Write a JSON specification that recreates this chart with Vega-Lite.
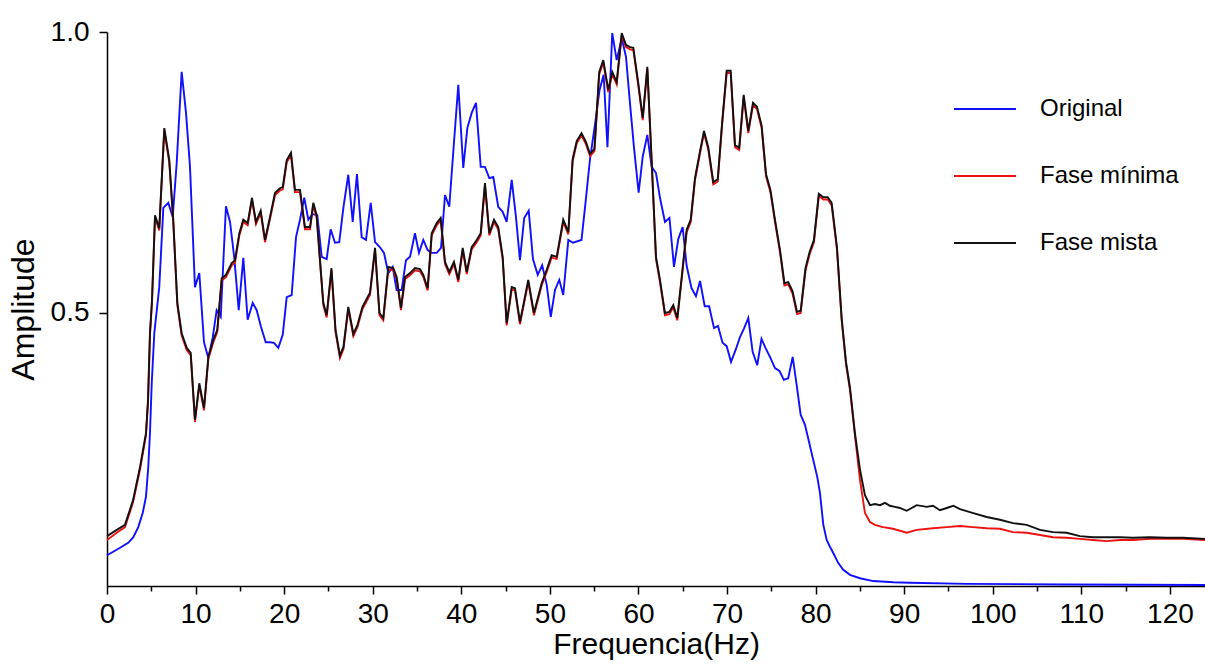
{
  "$schema": "https://vega.github.io/schema/vega-lite/v6.json",
  "width": 1098,
  "height": 554,
  "autosize": {"type": "none"},
  "padding": {"left": 107, "top": 32, "right": 0, "bottom": 78},
  "background": "white",
  "config": {
    "view": {"stroke": null},
    "font": "Liberation Sans",
    "axis": {
      "grid": false,
      "domainColor": "black",
      "domainWidth": 1.5,
      "tickColor": "black",
      "tickWidth": 1.5,
      "labelColor": "black",
      "labelFont": "Liberation Sans",
      "labelFontSize": 28,
      "titleColor": "black",
      "titleFont": "Liberation Sans",
      "titleFontSize": 30,
      "titleFontWeight": "normal"
    }
  },
  "datasets": {
    "original": [
      {"f":0,"a":0.069},{"f":0.90,"a":0.077},{"f":1.66,"a":0.084},{"f":2.40,"a":0.091},{"f":2.97,"a":0.101},{"f":3.53,"a":0.119},{"f":4.03,"a":0.144},{"f":4.40,"a":0.173},{"f":4.66,"a":0.226},{"f":4.85,"a":0.286},{"f":5.05,"a":0.375},{"f":5.34,"a":0.464},{"f":5.90,"a":0.546},{"f":6.36,"a":0.687},{"f":6.92,"a":0.696},{"f":7.42,"a":0.671},{"f":7.87,"a":0.767},{"f":8.43,"a":0.929},{"f":8.92,"a":0.856},{"f":9.37,"a":0.760},{"f":9.93,"a":0.546},{"f":10.42,"a":0.571},{"f":10.95,"a":0.448},{"f":11.44,"a":0.420},{"f":11.93,"a":0.456},{"f":12.38,"a":0.505},{"f":12.84,"a":0.493},{"f":13.43,"a":0.690},{"f":13.89,"a":0.662},{"f":14.37,"a":0.598},{"f":14.87,"a":0.505},{"f":15.39,"a":0.598},{"f":15.88,"a":0.488},{"f":16.45,"a":0.518},{"f":16.90,"a":0.505},{"f":17.39,"a":0.475},{"f":17.92,"a":0.448},{"f":18.40,"a":0.448},{"f":18.85,"a":0.447},{"f":19.34,"a":0.438},{"f":19.84,"a":0.461},{"f":20.29,"a":0.528},{"f":20.85,"a":0.532},{"f":21.34,"a":0.635},{"f":21.79,"a":0.666},{"f":22.27,"a":0.705},{"f":22.73,"a":0.666},{"f":23.22,"a":0.676},{"f":23.74,"a":0.674},{"f":24.24,"a":0.600},{"f":24.80,"a":0.596},{"f":25.25,"a":0.649},{"f":25.74,"a":0.625},{"f":26.22,"a":0.626},{"f":26.70,"a":0.689},{"f":27.24,"a":0.746},{"f":27.74,"a":0.662},{"f":28.22,"a":0.747},{"f":28.75,"a":0.635},{"f":29.24,"a":0.630},{"f":29.77,"a":0.696},{"f":30.26,"a":0.626},{"f":30.82,"a":0.617},{"f":31.27,"a":0.607},{"f":31.76,"a":0.571},{"f":32.25,"a":0.582},{"f":32.70,"a":0.541},{"f":33.27,"a":0.541},{"f":33.75,"a":0.594},{"f":34.21,"a":0.600},{"f":34.77,"a":0.642},{"f":35.22,"a":0.607},{"f":35.71,"a":0.630},{"f":36.20,"a":0.612},{"f":36.66,"a":0.607},{"f":37.22,"a":0.607},{"f":37.71,"a":0.616},{"f":38.16,"a":0.710},{"f":38.64,"a":0.689},{"f":39.17,"a":0.803},{"f":39.66,"a":0.906},{"f":40.22,"a":0.758},{"f":40.68,"a":0.829},{"f":41.17,"a":0.856},{"f":41.66,"a":0.874},{"f":42.19,"a":0.760},{"f":42.67,"a":0.760},{"f":43.16,"a":0.740},{"f":43.61,"a":0.742},{"f":44.17,"a":0.689},{"f":44.67,"a":0.680},{"f":45.12,"a":0.662},{"f":45.69,"a":0.737},{"f":46.17,"a":0.671},{"f":46.62,"a":0.594},{"f":47.10,"a":0.669},{"f":47.61,"a":0.682},{"f":48.09,"a":0.596},{"f":48.63,"a":0.568},{"f":49.13,"a":0.585},{"f":49.64,"a":0.550},{"f":50.10,"a":0.493},{"f":50.58,"a":0.541},{"f":51.06,"a":0.559},{"f":51.51,"a":0.532},{"f":52.08,"a":0.630},{"f":52.61,"a":0.625},{"f":53.57,"a":0.630},{"f":54.02,"a":0.696},{"f":54.53,"a":0.774},{"f":55.09,"a":0.835},{"f":55.61,"a":0.897},{"f":56.07,"a":0.924},{"f":56.50,"a":0.795},{"f":57.04,"a":0.998},{"f":57.54,"a":0.950},{"f":58.11,"a":0.989},{"f":58.59,"a":0.956},{"f":59.04,"a":0.874},{"f":59.49,"a":0.795},{"f":60.02,"a":0.714},{"f":60.48,"a":0.778},{"f":61.00,"a":0.817},{"f":61.49,"a":0.760},{"f":61.98,"a":0.749},{"f":62.43,"a":0.705},{"f":62.99,"a":0.662},{"f":63.50,"a":0.669},{"f":64.01,"a":0.582},{"f":64.50,"a":0.632},{"f":64.99,"a":0.653},{"f":65.44,"a":0.584},{"f":65.99,"a":0.544},{"f":66.49,"a":0.530},{"f":66.95,"a":0.557},{"f":67.48,"a":0.512},{"f":67.98,"a":0.512},{"f":68.53,"a":0.473},{"f":68.98,"a":0.477},{"f":69.49,"a":0.447},{"f":69.96,"a":0.441},{"f":70.45,"a":0.413},{"f":71.01,"a":0.436},{"f":71.46,"a":0.457},{"f":71.91,"a":0.472},{"f":72.40,"a":0.491},{"f":72.89,"a":0.431},{"f":73.41,"a":0.407},{"f":73.89,"a":0.454},{"f":74.34,"a":0.438},{"f":74.90,"a":0.420},{"f":75.41,"a":0.402},{"f":75.92,"a":0.397},{"f":76.41,"a":0.381},{"f":76.91,"a":0.384},{"f":77.41,"a":0.422},{"f":77.86,"a":0.372},{"f":78.31,"a":0.319},{"f":78.80,"a":0.301},{"f":79.28,"a":0.269},{"f":79.74,"a":0.238},{"f":80.19,"a":0.208},{"f":80.49,"a":0.180},{"f":80.87,"a":0.123},{"f":81.25,"a":0.096},{"f":81.62,"a":0.084},{"f":81.99,"a":0.073},{"f":82.56,"a":0.055},{"f":83.12,"a":0.043},{"f":83.88,"a":0.034},{"f":85.01,"a":0.028},{"f":86.51,"a":0.023},{"f":88.77,"a":0.021},{"f":90.65,"a":0.020},{"f":97.05,"a":0.018},{"f":108.34,"a":0.017},{"f":123.96,"a":0.016}
    ],
    "minima": [
      {"f":0,"a":0.096},{"f":1.10,"a":0.109},{"f":2.03,"a":0.119},{"f":2.94,"a":0.163},{"f":3.73,"a":0.222},{"f":4.40,"a":0.282},{"f":4.63,"a":0.341},{"f":4.85,"a":0.460},{"f":5.08,"a":0.519},{"f":5.42,"a":0.670},{"f":5.90,"a":0.647},{"f":6.47,"a":0.825},{"f":7.03,"a":0.768},{"f":7.48,"a":0.662},{"f":7.94,"a":0.514},{"f":8.43,"a":0.460},{"f":9.00,"a":0.434},{"f":9.45,"a":0.425},{"f":9.93,"a":0.306},{"f":10.42,"a":0.371},{"f":10.95,"a":0.327},{"f":11.44,"a":0.418},{"f":12.00,"a":0.448},{"f":12.45,"a":0.466},{"f":12.95,"a":0.558},{"f":13.43,"a":0.564},{"f":14.08,"a":0.585},{"f":14.45,"a":0.590},{"f":14.94,"a":0.638},{"f":15.39,"a":0.662},{"f":15.88,"a":0.656},{"f":16.37,"a":0.701},{"f":16.82,"a":0.658},{"f":17.35,"a":0.678},{"f":17.84,"a":0.626},{"f":18.40,"a":0.667},{"f":18.97,"a":0.710},{"f":19.53,"a":0.718},{"f":19.84,"a":0.720},{"f":20.29,"a":0.768},{"f":20.77,"a":0.781},{"f":21.22,"a":0.715},{"f":21.79,"a":0.715},{"f":22.35,"a":0.649},{"f":22.92,"a":0.649},{"f":23.29,"a":0.692},{"f":23.67,"a":0.670},{"f":24.05,"a":0.590},{"f":24.42,"a":0.514},{"f":24.80,"a":0.492},{"f":25.34,"a":0.576},{"f":25.80,"a":0.466},{"f":26.30,"a":0.420},{"f":26.70,"a":0.436},{"f":27.24,"a":0.507},{"f":27.81,"a":0.459},{"f":28.28,"a":0.475},{"f":28.84,"a":0.507},{"f":29.69,"a":0.532},{"f":30.26,"a":0.612},{"f":30.76,"a":0.496},{"f":31.19,"a":0.487},{"f":31.76,"a":0.578},{"f":32.32,"a":0.576},{"f":32.70,"a":0.560},{"f":33.19,"a":0.505},{"f":33.64,"a":0.560},{"f":34.21,"a":0.567},{"f":34.77,"a":0.576},{"f":35.34,"a":0.574},{"f":35.71,"a":0.564},{"f":36.20,"a":0.540},{"f":36.66,"a":0.638},{"f":37.22,"a":0.656},{"f":37.67,"a":0.665},{"f":38.16,"a":0.587},{"f":38.64,"a":0.569},{"f":39.17,"a":0.587},{"f":39.66,"a":0.555},{"f":40.16,"a":0.612},{"f":40.61,"a":0.569},{"f":41.17,"a":0.613},{"f":41.74,"a":0.626},{"f":42.19,"a":0.638},{"f":42.67,"a":0.727},{"f":43.16,"a":0.638},{"f":43.69,"a":0.662},{"f":44.17,"a":0.649},{"f":44.67,"a":0.596},{"f":45.12,"a":0.478},{"f":45.69,"a":0.542},{"f":46.06,"a":0.540},{"f":46.62,"a":0.480},{"f":47.11,"a":0.519},{"f":47.56,"a":0.555},{"f":48.20,"a":0.496},{"f":49.07,"a":0.549},{"f":49.64,"a":0.573},{"f":50.20,"a":0.599},{"f":50.77,"a":0.596},{"f":51.51,"a":0.662},{"f":52.08,"a":0.640},{"f":52.57,"a":0.770},{"f":53.03,"a":0.802},{"f":53.57,"a":0.816},{"f":54.08,"a":0.800},{"f":54.53,"a":0.779},{"f":55.03,"a":0.788},{"f":55.57,"a":0.925},{"f":56.03,"a":0.946},{"f":56.59,"a":0.893},{"f":57.04,"a":0.925},{"f":57.54,"a":0.907},{"f":58.11,"a":0.994},{"f":58.59,"a":0.973},{"f":59.04,"a":0.969},{"f":59.42,"a":0.968},{"f":59.98,"a":0.905},{"f":60.48,"a":0.843},{"f":61.00,"a":0.934},{"f":61.49,"a":0.768},{"f":61.98,"a":0.596},{"f":62.43,"a":0.555},{"f":62.99,"a":0.496},{"f":63.48,"a":0.498},{"f":63.93,"a":0.510},{"f":64.38,"a":0.487},{"f":64.88,"a":0.560},{"f":65.44,"a":0.644},{"f":65.90,"a":0.662},{"f":66.38,"a":0.736},{"f":66.95,"a":0.784},{"f":67.40,"a":0.820},{"f":67.88,"a":0.791},{"f":68.45,"a":0.729},{"f":68.95,"a":0.734},{"f":69.43,"a":0.832},{"f":69.96,"a":0.927},{"f":70.41,"a":0.927},{"f":70.90,"a":0.795},{"f":71.37,"a":0.790},{"f":71.88,"a":0.884},{"f":72.40,"a":0.820},{"f":72.93,"a":0.870},{"f":73.38,"a":0.863},{"f":73.91,"a":0.829},{"f":74.40,"a":0.743},{"f":74.90,"a":0.715},{"f":75.41,"a":0.662},{"f":75.98,"a":0.608},{"f":76.48,"a":0.549},{"f":76.91,"a":0.551},{"f":77.39,"a":0.535},{"f":77.90,"a":0.498},{"f":78.31,"a":0.500},{"f":78.86,"a":0.576},{"f":79.33,"a":0.605},{"f":79.81,"a":0.626},{"f":80.36,"a":0.708},{"f":80.87,"a":0.702},{"f":81.37,"a":0.702},{"f":81.81,"a":0.692},{"f":82.41,"a":0.613},{"f":82.94,"a":0.487},{"f":83.43,"a":0.409},{"f":83.88,"a":0.363},{"f":84.44,"a":0.282},{"f":85.01,"a":0.203},{"f":85.57,"a":0.144},{"f":86.14,"a":0.128},{"f":86.70,"a":0.123},{"f":87.60,"a":0.119},{"f":88.73,"a":0.116},{"f":90.28,"a":0.109},{"f":91.41,"a":0.114},{"f":93.25,"a":0.117},{"f":94.80,"a":0.119},{"f":96.30,"a":0.121},{"f":97.77,"a":0.119},{"f":99.31,"a":0.117},{"f":100.81,"a":0.116},{"f":102.28,"a":0.110},{"f":103.83,"a":0.109},{"f":105.33,"a":0.105},{"f":106.80,"a":0.101},{"f":108.34,"a":0.100},{"f":109.84,"a":0.098},{"f":111.31,"a":0.096},{"f":112.86,"a":0.094},{"f":114.36,"a":0.096},{"f":115.83,"a":0.096},{"f":117.75,"a":0.098},{"f":119.63,"a":0.098},{"f":121.47,"a":0.098},{"f":123.96,"a":0.096}
    ],
    "mista": [
      {"f":0,"a":0.103},{"f":1.10,"a":0.114},{"f":2.03,"a":0.123},{"f":2.94,"a":0.167},{"f":3.73,"a":0.226},{"f":4.40,"a":0.286},{"f":4.63,"a":0.345},{"f":4.85,"a":0.464},{"f":5.08,"a":0.523},{"f":5.42,"a":0.674},{"f":5.90,"a":0.651},{"f":6.47,"a":0.829},{"f":7.03,"a":0.772},{"f":7.48,"a":0.666},{"f":7.94,"a":0.518},{"f":8.43,"a":0.464},{"f":9.00,"a":0.438},{"f":9.45,"a":0.429},{"f":9.93,"a":0.310},{"f":10.42,"a":0.375},{"f":10.95,"a":0.331},{"f":11.44,"a":0.422},{"f":12.00,"a":0.452},{"f":12.45,"a":0.470},{"f":12.95,"a":0.562},{"f":13.43,"a":0.568},{"f":14.08,"a":0.589},{"f":14.45,"a":0.594},{"f":14.94,"a":0.642},{"f":15.39,"a":0.666},{"f":15.88,"a":0.660},{"f":16.37,"a":0.705},{"f":16.82,"a":0.662},{"f":17.35,"a":0.682},{"f":17.84,"a":0.630},{"f":18.40,"a":0.671},{"f":18.97,"a":0.714},{"f":19.53,"a":0.722},{"f":19.84,"a":0.724},{"f":20.29,"a":0.772},{"f":20.77,"a":0.785},{"f":21.22,"a":0.719},{"f":21.79,"a":0.719},{"f":22.35,"a":0.653},{"f":22.92,"a":0.653},{"f":23.29,"a":0.696},{"f":23.67,"a":0.674},{"f":24.05,"a":0.594},{"f":24.42,"a":0.518},{"f":24.80,"a":0.496},{"f":25.34,"a":0.580},{"f":25.80,"a":0.470},{"f":26.30,"a":0.424},{"f":26.70,"a":0.440},{"f":27.24,"a":0.511},{"f":27.81,"a":0.463},{"f":28.28,"a":0.479},{"f":28.84,"a":0.511},{"f":29.69,"a":0.536},{"f":30.26,"a":0.616},{"f":30.76,"a":0.500},{"f":31.19,"a":0.491},{"f":31.76,"a":0.582},{"f":32.32,"a":0.580},{"f":32.70,"a":0.564},{"f":33.19,"a":0.509},{"f":33.64,"a":0.564},{"f":34.21,"a":0.571},{"f":34.77,"a":0.580},{"f":35.34,"a":0.578},{"f":35.71,"a":0.568},{"f":36.20,"a":0.544},{"f":36.66,"a":0.642},{"f":37.22,"a":0.660},{"f":37.67,"a":0.669},{"f":38.16,"a":0.591},{"f":38.64,"a":0.573},{"f":39.17,"a":0.591},{"f":39.66,"a":0.559},{"f":40.16,"a":0.616},{"f":40.61,"a":0.573},{"f":41.17,"a":0.617},{"f":41.74,"a":0.630},{"f":42.19,"a":0.642},{"f":42.67,"a":0.731},{"f":43.16,"a":0.642},{"f":43.69,"a":0.666},{"f":44.17,"a":0.653},{"f":44.67,"a":0.600},{"f":45.12,"a":0.482},{"f":45.69,"a":0.546},{"f":46.06,"a":0.544},{"f":46.62,"a":0.484},{"f":47.11,"a":0.523},{"f":47.56,"a":0.559},{"f":48.20,"a":0.500},{"f":49.07,"a":0.553},{"f":49.64,"a":0.577},{"f":50.20,"a":0.603},{"f":50.77,"a":0.600},{"f":51.51,"a":0.666},{"f":52.08,"a":0.644},{"f":52.57,"a":0.774},{"f":53.03,"a":0.806},{"f":53.57,"a":0.820},{"f":54.08,"a":0.804},{"f":54.53,"a":0.783},{"f":55.03,"a":0.792},{"f":55.57,"a":0.929},{"f":56.03,"a":0.950},{"f":56.59,"a":0.897},{"f":57.04,"a":0.929},{"f":57.54,"a":0.911},{"f":58.11,"a":0.998},{"f":58.59,"a":0.977},{"f":59.04,"a":0.973},{"f":59.42,"a":0.972},{"f":59.98,"a":0.909},{"f":60.48,"a":0.847},{"f":61.00,"a":0.938},{"f":61.49,"a":0.772},{"f":61.98,"a":0.600},{"f":62.43,"a":0.559},{"f":62.99,"a":0.500},{"f":63.48,"a":0.502},{"f":63.93,"a":0.514},{"f":64.38,"a":0.491},{"f":64.88,"a":0.564},{"f":65.44,"a":0.648},{"f":65.90,"a":0.666},{"f":66.38,"a":0.740},{"f":66.95,"a":0.788},{"f":67.40,"a":0.824},{"f":67.88,"a":0.795},{"f":68.45,"a":0.733},{"f":68.95,"a":0.738},{"f":69.43,"a":0.836},{"f":69.96,"a":0.931},{"f":70.41,"a":0.931},{"f":70.90,"a":0.799},{"f":71.37,"a":0.794},{"f":71.88,"a":0.888},{"f":72.40,"a":0.824},{"f":72.93,"a":0.874},{"f":73.38,"a":0.867},{"f":73.91,"a":0.833},{"f":74.40,"a":0.747},{"f":74.90,"a":0.719},{"f":75.41,"a":0.666},{"f":75.98,"a":0.612},{"f":76.48,"a":0.553},{"f":76.91,"a":0.555},{"f":77.39,"a":0.539},{"f":77.90,"a":0.502},{"f":78.31,"a":0.504},{"f":78.86,"a":0.580},{"f":79.33,"a":0.609},{"f":79.81,"a":0.630},{"f":80.36,"a":0.712},{"f":80.87,"a":0.706},{"f":81.37,"a":0.706},{"f":81.81,"a":0.696},{"f":82.41,"a":0.617},{"f":82.94,"a":0.491},{"f":83.43,"a":0.413},{"f":83.88,"a":0.367},{"f":84.44,"a":0.286},{"f":85.01,"a":0.221},{"f":85.57,"a":0.176},{"f":86.14,"a":0.158},{"f":86.70,"a":0.160},{"f":87.27,"a":0.158},{"f":87.83,"a":0.162},{"f":88.39,"a":0.157},{"f":88.96,"a":0.155},{"f":89.52,"a":0.153},{"f":90.28,"a":0.148},{"f":91.41,"a":0.158},{"f":92.54,"a":0.155},{"f":93.25,"a":0.157},{"f":94.04,"a":0.149},{"f":94.80,"a":0.153},{"f":95.54,"a":0.157},{"f":96.30,"a":0.151},{"f":97.80,"a":0.144},{"f":99.31,"a":0.137},{"f":100.81,"a":0.132},{"f":102.28,"a":0.126},{"f":103.83,"a":0.123},{"f":105.33,"a":0.114},{"f":106.80,"a":0.110},{"f":108.34,"a":0.109},{"f":109.84,"a":0.103},{"f":111.31,"a":0.101},{"f":112.86,"a":0.101},{"f":114.36,"a":0.101},{"f":115.83,"a":0.100},{"f":117.75,"a":0.101},{"f":119.63,"a":0.100},{"f":121.47,"a":0.100},{"f":123.96,"a":0.098}
    ]
  },
  "encoding": {
    "x": {
      "field": "f",
      "type": "quantitative",
      "scale": {"domain": [0, 123.96], "nice": false, "zero": false},
      "axis": {
        "title": "Frequencia(Hz)",
        "values": [0,5,10,15,20,25,30,35,40,45,50,55,60,65,70,75,80,85,90,95,100,105,110,115,120],
        "labelExpr": "datum.value % 10 === 0 ? datum.label : ''",
        "labelOverlap": false,
        "labelFlush": false,
        "tickSize": {"condition": {"test": "datum.value % 10 === 0", "value": 8}, "value": 5},
        "labelPadding": 6,
        "titlePadding": 1
      }
    },
    "y": {
      "field": "a",
      "type": "quantitative",
      "scale": {"domain": [0.0142, 1.0], "nice": false, "zero": false},
      "axis": {
        "title": "Amplitude",
        "titleFontSize": 32,
        "values": [0.5, 1.0],
        "format": ".1f",
        "tickSize": 8,
        "labelPadding": 10,
        "titlePadding": 10
      }
    }
  },
  "layer": [
    {
      "data": {"values": [{}]},
      "mark": {"type": "rule", "color": "black", "strokeWidth": 1.5},
      "encoding": {"x": null, "y": {"datum": 1.0, "type": "quantitative"}}
    },
    {
      "data": {"name": "original"},
      "mark": {"type": "line", "strokeWidth": 1.9, "interpolate": "linear"},
      "encoding": {
        "color": {
          "datum": "Original",
          "type": "nominal",
          "scale": {"domain": ["Original", "Fase mínima", "Fase mista"], "range": ["#1010ff", "#ee1111", "#111111"]},
          "legend": {
            "orient": "none",
            "legendX": 846,
            "legendY": 45,
            "title": null,
            "symbolType": "stroke",
            "symbolSize": 3844,
            "symbolStrokeWidth": 2,
            "labelFont": "Liberation Sans",
            "labelFontSize": 24,
            "labelColor": "black",
            "labelOffset": 23,
            "rowPadding": 23
          }
        }
      }
    },
    {
      "data": {"name": "minima"},
      "mark": {"type": "line", "strokeWidth": 1.9},
      "encoding": {"color": {"datum": "Fase mínima", "type": "nominal"}}
    },
    {
      "data": {"name": "mista"},
      "mark": {"type": "line", "strokeWidth": 1.9},
      "encoding": {"color": {"datum": "Fase mista", "type": "nominal"}}
    }
  ]
}
